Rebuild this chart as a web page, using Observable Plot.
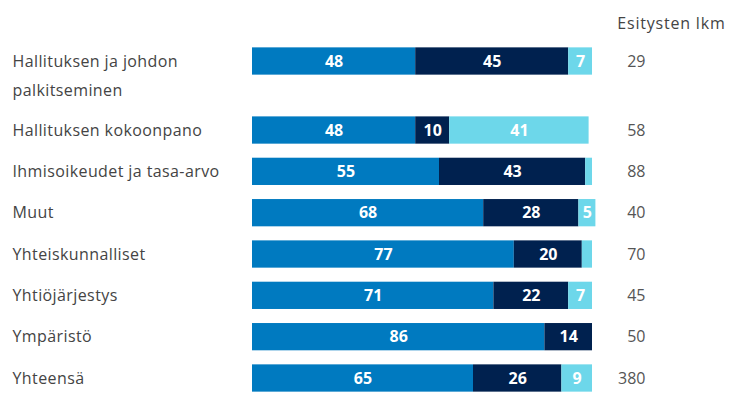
<!DOCTYPE html>
<html>
<head>
<meta charset="utf-8">
<script src="https://cdn.jsdelivr.net/npm/d3@7"></script>
<script src="https://cdn.jsdelivr.net/npm/@observablehq/plot@0.6"></script>
<style>
  html, body { margin: 0; padding: 0; background: #fff; }
  #chart svg { display: block; }
  #chart svg g.cat-label text { letter-spacing: 0.4px; }
  #chart svg g.count-header text { letter-spacing: 0.8px; }
</style>
</head>
<body>
<div id="chart"></div>
<script>
const categories = [
  "Hallituksen ja johdon\npalkitseminen",
  "Hallituksen kokoonpano",
  "Ihmisoikeudet ja tasa-arvo",
  "Muut",
  "Yhteiskunnalliset",
  "Yhtiöjärjestys",
  "Ympäristö",
  "Yhteensä"
];
const series1 = [48, 48, 55, 68, 77, 71, 86, 65];
const series2 = [45, 10, 43, 28, 20, 22, 14, 26];
const series3 = [7, 41, 2, 5, 3, 7, 0, 9];
const counts = [29, 58, 88, 40, 70, 45, 50, 380];
const countHeader = "Esitysten lkm";

const colors = ["#007ac0", "#00214f", "#6dd7ea"];
const extraLine = 0.67;

// row positions in "row units", taller rows for wrapped labels
const rowPos = [];
categories.forEach((c, i) => {
  if (i === 0) rowPos.push(0);
  else rowPos.push(rowPos[i - 1] + 1 + (categories[i - 1].split("\n").length - 1) * extraLine);
});
const lastPos = rowPos[rowPos.length - 1];

const segs = [];
categories.forEach((c, i) => {
  const vals = [series1[i], series2[i], series3[i]];
  let acc = 0;
  vals.forEach((v, k) => {
    segs.push({cat: c, k, v, x1: acc, x2: acc + v, u: rowPos[i]});
    acc += v;
  });
});

const labelLines = [];
categories.forEach((c, i) => {
  c.split("\n").forEach((line, j) => labelLines.push({line, u: rowPos[i] + j * 0.72}));
});
const countRows = categories.map((c, i) => ({n: counts[i], u: rowPos[i]}));

const half = 0.33;
const plot = Plot.plot({
  width: 733,
  height: 412,
  marginLeft: 0, marginRight: 0, marginTop: 0, marginBottom: 0,
  x: {domain: [0, 100], range: [252, 592], axis: null},
  y: {domain: [0, lastPos], range: [61, 378], axis: null},
  style: {fontFamily: "'Open Sans', sans-serif"},
  marks: [
    Plot.rectX(segs.filter(d => d.v > 0), {
      x1: "x1", x2: "x2",
      y1: d => d.u - half, y2: d => d.u + half,
      fill: d => colors[d.k]
    }),
    Plot.text(segs.filter(d => d.v >= 4), {
      x: d => (d.x1 + d.x2) / 2, y: "u",
      text: d => String(d.v),
      fill: "white", fontWeight: 700, fontSize: 16
    }),
    Plot.text(labelLines, {
      frameAnchor: "left", dx: 12, y: "u", text: "line",
      textAnchor: "start", fill: "#444", fontSize: 16, className: "cat-label"
    }),
    Plot.text(countRows, {
      frameAnchor: "right", dx: -88, y: "u", text: d => String(d.n),
      textAnchor: "end", fill: "#555", fontSize: 16
    }),
    Plot.text([countHeader], {
      frameAnchor: "top-right", dx: -8, dy: 17, text: d => d,
      textAnchor: "end", fill: "#444", fontSize: 16, className: "count-header"
    })
  ]
});
document.getElementById("chart").appendChild(plot);
</script>
</body>
</html>
